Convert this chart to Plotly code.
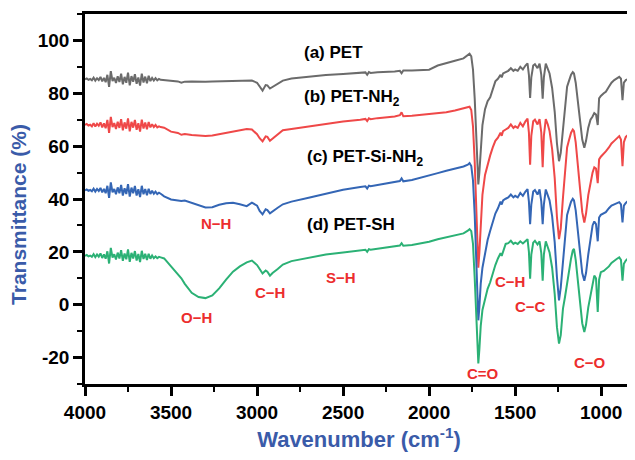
import plotly.graph_objects as go

# ---------------- data ----------------
wn_noise = [4000, 3990, 3980, 3970, 3960, 3950, 3940, 3930, 3920, 3910,
            3900, 3890, 3880, 3870, 3860, 3850, 3840, 3830, 3820, 3810,
            3800, 3790, 3780, 3770, 3760, 3750, 3740, 3730, 3720, 3710,
            3700, 3690, 3680, 3670, 3660, 3650, 3640, 3630, 3620, 3610,
            3600, 3590, 3580, 3570, 3560]
wn_mid = [3540, 3500, 3460, 3440, 3420, 3380, 3340, 3300, 3260, 3220,
          3180, 3140, 3100, 3060, 3030, 3000, 2985, 2968, 2950, 2940,
          2925, 2910, 2880, 2850, 2800, 2700, 2600, 2500, 2400, 2370,
          2360, 2350, 2340, 2300, 2200, 2170, 2160, 2150, 2100, 2000,
          1950, 1900, 1850]
wn_fp = [1800, 1775, 1765, 1755, 1745, 1735, 1725, 1718, 1714, 1708,
         1700, 1690, 1675, 1660, 1645, 1630, 1615, 1600, 1585, 1578,
         1570, 1555, 1540, 1525, 1510, 1500, 1485, 1470, 1455, 1440,
         1428, 1420, 1413, 1406, 1395, 1385, 1370, 1358, 1348, 1340,
         1333, 1322, 1310, 1300, 1285, 1270, 1257, 1245, 1235, 1222,
         1210, 1198, 1188, 1175, 1165, 1158, 1148, 1135, 1122, 1110,
         1098, 1088, 1075, 1062, 1050, 1040, 1030, 1020, 1012, 1002,
         985, 973, 955, 940, 924, 910, 895, 885, 876, 868,
         857, 840, 825, 815]

pet_noise = [85.3, 85.6, 85.1, 85.4, 84.9, 85.9, 84.8, 85.7, 85.0, 86.2,
             84.5, 85.8, 84.2, 87.0, 82.4, 88.4, 84.6, 85.9, 83.9, 86.4,
             84.3, 87.4, 83.4, 86.2, 84.0, 87.8, 83.0, 86.5, 84.4, 87.2,
             83.6, 86.0, 82.9, 87.4, 84.1, 86.3, 83.8, 86.6, 84.6, 85.8,
             84.8, 85.7, 84.9, 85.4, 85.1]
pet_mid = [85.0, 84.6, 84.5, 84.0, 84.4, 84.5, 84.4, 84.4, 84.5, 84.6,
           84.7, 84.8, 84.9, 85.0, 84.8, 84.0, 82.5, 81.0, 83.1, 83.0,
           81.8, 82.4, 83.7, 84.8, 85.6, 86.3, 86.9, 87.3, 87.6, 87.9,
           87.0, 88.0, 87.7, 88.0, 88.2, 88.5, 87.6, 88.6, 88.6, 88.9,
           90.5, 91.5, 92.3]
pet_fp = [93.2, 94.3, 95.0, 94.0, 89.0, 78.0, 60.0, 48.0, 45.5, 50.0,
          60.0, 68.0, 74.0, 77.0, 78.5, 82.0, 84.5, 85.5, 87.0, 86.0,
          87.5, 88.0, 88.5, 89.5, 88.5, 89.0, 88.5, 90.0, 89.0, 90.5,
          91.3, 87.0, 78.2, 86.0, 90.5, 91.0, 89.5, 91.2, 87.0, 78.0,
          86.0, 91.2, 89.5, 87.5, 82.0, 73.0, 61.0, 54.3, 57.5, 67.0,
          76.0, 82.5, 84.5, 87.0, 88.0, 87.5, 84.0, 76.0, 68.0, 62.5,
          59.4, 62.0, 67.0, 70.0, 71.2, 72.5, 72.0, 68.0, 78.1, 79.0,
          80.0, 80.6, 82.5, 84.0, 85.0, 85.5, 86.2, 85.5, 77.4, 84.0,
          85.0, 85.5, 86.2, 86.8]

nh2_noise = [68.0, 68.4, 67.8, 68.1, 67.5, 68.7, 67.4, 68.5, 67.7, 69.0,
             67.1, 68.6, 66.8, 69.9, 65.0, 71.1, 67.2, 68.7, 66.5, 69.2,
             66.9, 70.2, 66.0, 69.0, 66.6, 70.5, 65.6, 69.2, 67.0, 69.9,
             66.2, 68.7, 65.5, 70.0, 66.7, 68.9, 66.4, 69.1, 67.1, 68.3,
             67.2, 68.0, 67.1, 67.5, 67.2]
nh2_mid = [67.0, 65.5, 65.0, 64.3, 64.6, 64.2, 63.9, 63.8, 64.0, 64.5,
           65.0, 65.6, 66.0, 66.5, 66.3, 64.5, 63.0, 61.8, 63.7, 63.5,
           62.0, 62.8, 64.3, 66.0, 66.5, 67.5, 68.5, 69.3, 70.0, 70.3,
           69.5, 70.5, 70.2, 70.6, 71.2, 71.7, 72.8, 71.3, 71.5, 72.2,
           72.3, 72.8, 73.5]
nh2_fp = [74.2, 74.6, 74.9, 73.7, 67.5, 54.0, 31.9, 17.1, 14.0, 19.6,
          31.9, 41.7, 49.1, 53.4, 56.5, 59.5, 62.0, 63.2, 65.1, 63.9,
          65.7, 66.3, 66.9, 68.2, 66.9, 67.5, 66.9, 68.8, 67.5, 69.4,
          70.4, 65.1, 53.0, 63.9, 69.4, 70.0, 68.2, 70.2, 65.1, 52.0,
          63.9, 70.2, 68.2, 65.7, 58.9, 47.9, 33.1, 24.8, 28.8, 40.5,
          51.6, 59.5, 62.0, 65.1, 66.3, 65.7, 61.4, 51.6, 41.7, 35.0,
          31.1, 34.5, 41.5, 46.0, 50.0, 52.0, 51.5, 46.0, 55.0, 56.0,
          57.0, 58.0, 59.5, 61.0, 62.0, 63.0, 63.8, 62.5, 52.4, 61.5,
          63.5, 64.5, 65.8, 66.8]

sinh2_noise = [43.3, 43.6, 43.1, 43.4, 42.9, 43.9, 42.8, 43.8, 43.0, 44.2,
               42.5, 43.8, 42.2, 45.0, 40.4, 46.3, 42.5, 43.8, 41.8, 44.4,
               42.2, 45.3, 41.3, 44.1, 41.9, 45.6, 40.9, 44.3, 42.2, 44.9,
               41.3, 43.7, 40.7, 45.0, 41.8, 43.8, 41.4, 43.9, 41.9, 43.1,
               42.0, 42.8, 41.9, 42.4, 42.0]
sinh2_mid = [41.0, 39.8, 39.5, 39.2, 39.4, 38.5, 37.5, 36.8, 36.9, 37.8,
             38.4, 38.6, 38.0, 37.3, 38.6, 37.5, 35.5, 34.2, 36.1, 35.8,
             34.6, 35.4, 36.7, 38.0, 39.0, 40.5, 42.0, 43.5, 44.5, 44.8,
             44.0, 45.0, 44.8, 45.3, 46.3, 46.8, 47.8, 46.7, 47.2, 48.8,
             49.8, 50.7, 51.5]
sinh2_fp = [52.3, 53.0, 53.6, 52.5, 47.0, 34.0, 14.0, 0.0, -5.9, -1.0,
            8.0, 14.0, 20.0, 24.5, 28.0, 31.5, 34.5, 36.5, 39.0, 37.9,
            39.5, 40.1, 40.6, 41.7, 40.6, 41.2, 40.6, 42.3, 41.2, 42.8,
            43.7, 39.0, 30.5, 37.9, 42.8, 43.4, 41.7, 43.6, 39.0, 30.5,
            37.9, 43.6, 41.7, 39.5, 33.5, 23.6, 10.4, 1.6, 6.5, 17.0,
            26.9, 34.0, 36.2, 39.0, 40.1, 39.5, 35.7, 26.9, 18.1, 12.0,
            9.1, 12.0, 19.0, 25.0, 30.0, 31.5, 30.5, 24.0, 33.0, 34.0,
            34.5, 35.0, 36.5, 37.5, 38.0, 38.5, 38.8, 38.0, 31.1, 37.5,
            38.5, 39.5, 40.3, 41.1]

sh_noise = [18.5, 18.8, 18.3, 18.6, 18.1, 19.1, 18.0, 19.0, 18.2, 19.4,
            17.7, 19.0, 17.4, 20.2, 15.6, 21.5, 17.8, 19.1, 17.1, 19.7,
            17.5, 20.6, 16.6, 19.4, 17.2, 20.9, 16.2, 19.6, 17.5, 20.3,
            16.7, 19.2, 16.1, 20.4, 17.3, 19.3, 16.9, 19.3, 17.4, 18.6,
            17.6, 18.3, 17.6, 18.1, 17.9]
sh_mid = [17.5, 14.5, 11.5, 10.0, 7.9, 4.5, 2.9, 2.5, 3.5, 6.2,
          9.5, 12.5, 14.5, 16.0, 16.7, 15.0, 13.5, 11.8, 12.9, 12.5,
          11.0, 12.0, 13.5, 15.2, 16.5, 17.8, 19.0, 19.8, 20.5, 20.8,
          20.0, 21.0, 20.8, 21.2, 22.0, 22.4, 23.3, 22.3, 22.6, 23.8,
          24.8, 25.5, 26.3]
sh_fp = [27.0, 28.0, 28.6, 27.8, 23.0, 10.0, -8.0, -19.0, -22.2, -17.0,
         -8.0, -2.0, 2.5, 6.0, 8.5, 12.0, 15.0, 17.5, 19.5, 18.5,
         20.0, 23.0, 23.3, 24.2, 23.0, 23.5, 23.0, 24.0, 23.2, 24.2,
         24.8, 20.0, 9.8, 19.0, 23.5, 24.2, 22.8, 24.0, 19.5, 9.1,
         19.0, 24.0, 22.0, 19.8, 14.0, 4.0, -8.5, -14.7, -11.5, -1.5,
         3.0, 8.6, 12.0, 17.5, 20.5, 21.1, 17.0, 8.0, -1.5, -7.0,
         -10.3, -7.5, -1.0, 4.0, 8.5, 11.0, 10.0, -2.7, 9.5, 12.3,
         12.8, 13.5, 14.5, 15.8, 16.7, 17.3, 17.9, 17.0, 9.1, 15.5,
         16.7, 17.8, 19.2, 20.4]

series_names = ["(a) PET", "(b) PET-NH<sub>2</sub>", "(c) PET-Si-NH<sub>2</sub>", "(d) PET-SH"]
series_colors = ["#6b6b6b", "#ef4848", "#3466b5", "#2bb175"]

x_ticks = [4000, 3500, 3000, 2500, 2000, 1500, 1000]
x_tick_labels = ["4000", "3500", "3000", "2500", "2000", "1500", "1000"]
y_ticks = [-20, 0, 20, 40, 60, 80, 100]
y_tick_labels = ["-20", "0", "20", "40", "60", "80", "100"]

bond_labels = ["N\u2212H", "O\u2212H", "C\u2212H", "S\u2212H", "C\u2212H", "C\u2212C", "C=O", "C\u2212O"]
bond_x = [3239, 3351, 2922, 2513, 1530, 1411, 1685, 1065]
bond_y = [30.9, -4.9, 4.6, 10.2, 8.7, -0.5, -26.2, -21.9]

name_x = [2739, 2739, 2721, 2721]
name_y = [95.6, 78.2, 55.5, 30.2]

# ---------------- assemble ----------------
wn = wn_noise + wn_mid + wn_fp
series = [pet_noise + pet_mid + pet_fp,
          nh2_noise + nh2_mid + nh2_fp,
          sinh2_noise + sinh2_mid + sinh2_fp,
          sh_noise + sh_mid + sh_fp]
for s in series:
    assert len(s) == len(wn), (len(s), len(wn))

fig = go.Figure()
for name, vals, col in zip(series_names, series, series_colors):
    fig.add_trace(go.Scatter(x=wn, y=vals, mode="lines", name=name,
                             line=dict(color=col, width=2), showlegend=False))

bold = dict(family="Arial, Liberation Sans, sans-serif", weight="bold")
title_blue = "#3a5ba9"

for txt, xv, yv in zip(series_names, name_x, name_y):
    fig.add_annotation(x=xv, y=yv, text=txt, showarrow=False, xanchor="left", yanchor="middle",
                       font=dict(size=17, color="black", **bold))
for txt, xv, yv in zip(bond_labels, bond_x, bond_y):
    fig.add_annotation(x=xv, y=yv, text=txt, showarrow=False, xanchor="center", yanchor="middle",
                       font=dict(size=15, color="#ec2d2d", **bold))

# y-axis title (placed as rotated text, slightly below the plot centre as in the reference)
fig.add_annotation(xref="paper", yref="paper", x=-0.1204, y=0.457, text="Transmittance (%)",
                   textangle=-90, showarrow=False, xanchor="center", yanchor="middle",
                   font=dict(size=21, color=title_blue, **bold))

axis_common = dict(showline=True, linewidth=2.5, linecolor="black", mirror=True,
                   ticks="outside", ticklen=9, tickwidth=2.5, tickcolor="black",
                   showgrid=False, zeroline=False, automargin=False,
                   tickfont=dict(size=19, color="black", **bold))

fig.update_xaxes(range=[4000, 815], tickvals=x_ticks, ticktext=x_tick_labels,
                 minor=dict(ticks="outside", ticklen=5, tickwidth=2, tickcolor="black", dtick=250, tick0=0),
                 title=dict(text="Wavenumber (cm<sup>-1</sup>)", standoff=18,
                            font=dict(size=22, color=title_blue, **bold)),
                 **axis_common)
fig.update_yaxes(range=[-30, 110], tickvals=y_ticks, ticktext=y_tick_labels,
                 minor=dict(ticks="outside", ticklen=5, tickwidth=2, tickcolor="black", dtick=10, tick0=0),
                 **axis_common)

# the page body has an 8px default margin on every side; keep the page free of scrollbars
fig.update_layout(width=627, height=444, margin=dict(l=77, r=2, t=6, b=68),
                  plot_bgcolor="white", paper_bgcolor="white")

fig.write_html("out.html")
